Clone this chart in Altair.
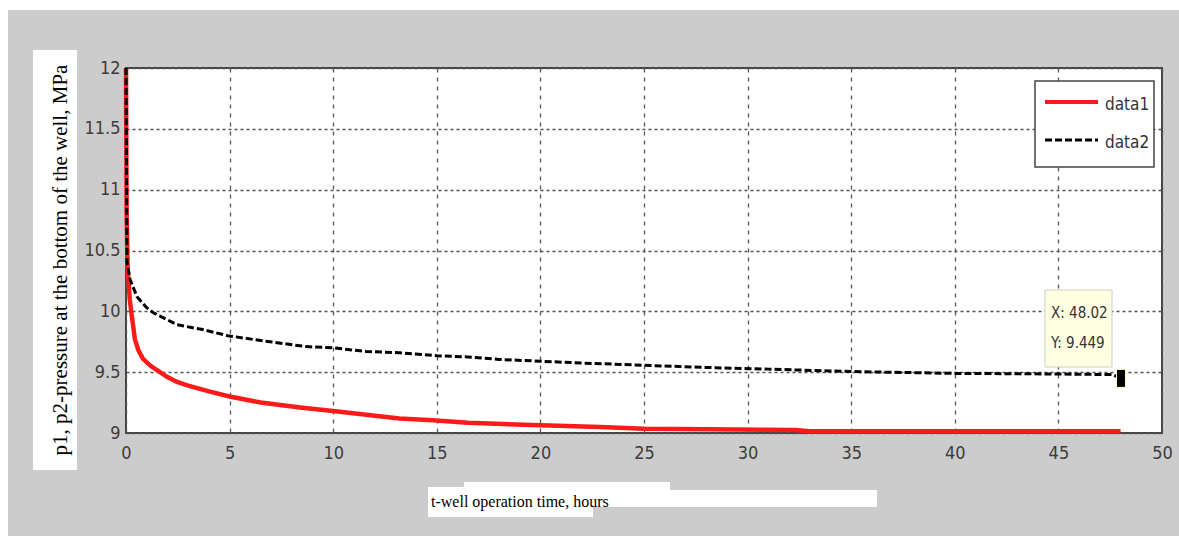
import altair as alt
import pandas as pd

# ---- data ----
t1 = [0.0, 0.03, 0.08, 0.18, 0.29, 0.43, 0.6, 0.82, 1.2, 1.64, 2.0, 2.46, 3.0, 4.05, 5.0,
      6.5, 8.4, 10.0, 11.6, 13.2, 14.8, 16.5, 19.6, 22.9, 25.0, 28.0, 32.3, 33.0, 40.0, 48.0]
p1 = [12.0, 10.8, 10.35, 10.1, 9.95, 9.77, 9.68, 9.61, 9.55, 9.5, 9.46, 9.42, 9.39, 9.34, 9.3,
      9.25, 9.21, 9.18, 9.15, 9.12, 9.105, 9.085, 9.065, 9.05, 9.035, 9.03, 9.025, 9.015, 9.015, 9.015]

t2 = [0.0, 0.05, 0.2, 0.53, 1.0, 1.3, 2.46, 3.7, 4.9, 6.5, 8.7, 10.0, 11.6, 13.2, 15.0, 16.5,
      18.0, 20.0, 22.0, 24.5, 27.7, 31.0, 35.0, 40.0, 45.0, 47.6, 48.02]
p2 = [12.0, 10.4, 10.26, 10.12, 10.03, 9.99, 9.89, 9.85, 9.8, 9.76, 9.71, 9.7, 9.67, 9.66, 9.635, 9.625,
      9.605, 9.59, 9.575, 9.56, 9.54, 9.525, 9.505, 9.49, 9.485, 9.48, 9.449]

x_ticks = [0, 5, 10, 15, 20, 25, 30, 35, 40, 45, 50]
y_ticks = [9, 9.5, 10, 10.5, 11, 11.5, 12]
tip_x = 48.02
tip_y = 9.449
legend_labels = ["data1", "data2"]
x_title = "t-well operation time, hours"
y_title = "p1, p2-pressure at the bottom of the well, MPa"

FONT_NUM = "DejaVu Sans Condensed, Liberation Sans Narrow, Roboto, sans-serif"
FONT_SERIF = "Liberation Serif, Times New Roman, serif"

d1 = pd.DataFrame({"t": t1, "p": p1})
d2 = pd.DataFrame({"t": t2, "p": p2})
dtip = pd.DataFrame({"t": [tip_x], "p": [tip_y]})
one = pd.DataFrame({"a": [0]})

xs = alt.Scale(domain=[0, 50], nice=False, zero=False)
ys = alt.Scale(domain=[9, 12], nice=False, zero=False)

xax = alt.Axis(values=x_ticks, format="~g", title=None, grid=True, gridDash=[4, 5],
               gridColor="#555555", gridWidth=1.3, domain=False, ticks=False,
               labelFont=FONT_NUM, labelFontSize=18, labelColor="#3c3c3c",
               labelPadding=11, labelFlush=False, labelBaseline="top")
yax = alt.Axis(values=y_ticks, format="~g", title=None, grid=True, gridDash=[3, 3],
               gridColor="#555555", gridWidth=1.6, domain=False, ticks=False,
               labelFont=FONT_NUM, labelFontSize=18, labelColor="#3c3c3c",
               labelPadding=6, labelFlush=False, labelAlign="right", labelBaseline="middle")

X = alt.X("t:Q", scale=xs, axis=xax)
Y = alt.Y("p:Q", scale=ys, axis=yax)

line1 = alt.Chart(d1).mark_line(color="#ff1a1a", strokeWidth=4.5).encode(x=X, y=Y)
line2 = alt.Chart(d2).mark_line(color="#000000", strokeWidth=3, strokeDash=[7, 3]).encode(x=X, y=Y)


def box(x1, x2, y1, y2, **kw):
    return alt.Chart(one).mark_rect(**kw).encode(
        x=alt.value(x1), x2=alt.value(x2), y=alt.value(y1), y2=alt.value(y2))


def label(x, y, text, **kw):
    return alt.Chart(one).mark_text(text=text, **kw).encode(x=alt.value(x), y=alt.value(y))


white_left = box(-126, -118, -68, 468, color="white")
white_top = box(-126, 1053, -68, -58, color="white")

ybox = box(-93, -49, -18, 402, color="white")
ytext = label(-65, 192, y_title, angle=270, align="center", baseline="middle",
              font=FONT_SERIF, fontSize=21, color="#000000")

xbox1 = box(302, 467, 419, 449, color="white")
xbox2 = box(338, 544, 414, 424, color="white")
xbox3 = box(467, 751, 422, 439, color="white")
xtext = label(305, 439, x_title, align="left", baseline="alphabetic",
              font=FONT_SERIF, fontSize=16, color="#000000")

tipbox = box(919, 986, 222, 299, fill="#ffffe1", stroke="#cfcfbf", strokeWidth=1)
tiptext1 = label(925, 245, f"X: {tip_x:.2f}", align="left", baseline="middle",
                 font=FONT_NUM, fontSize=15, color="#333333")
tiptext2 = label(925, 275, f"Y: {tip_y:.3f}", align="left", baseline="middle",
                 font=FONT_NUM, fontSize=15, color="#333333")
marker = alt.Chart(dtip).mark_point(shape="M-0.5,-1L0.5,-1L0.5,1L-0.5,1Z", filled=True,
                                    fill="#000000", stroke="#ffffcc", strokeWidth=1,
                                    size=324, opacity=1).encode(x=X, y=Y)

legbox = box(909, 1028, 13, 99, fill="white", stroke="#444444", strokeWidth=1.5)
leg1 = alt.Chart(one).mark_rule(color="#ff1a1a", strokeWidth=4).encode(
    x=alt.value(919), x2=alt.value(972), y=alt.value(34))
leg2 = alt.Chart(one).mark_rule(color="#000000", strokeWidth=3, strokeDash=[7, 3]).encode(
    x=alt.value(919), x2=alt.value(972), y=alt.value(72))
legt1 = label(979, 37, legend_labels[0], align="left", baseline="middle",
              font=FONT_NUM, fontSize=17, color="#333333")
legt2 = label(979, 75, legend_labels[1], align="left", baseline="middle",
              font=FONT_NUM, fontSize=17, color="#333333")

chart = alt.layer(
    white_left, white_top, ybox, ytext, xbox1, xbox2, xbox3, xtext,
    line1, line2, tipbox, tiptext1, tiptext2, marker,
    legbox, leg1, leg2, legt1, legt2,
).properties(
    width=1036, height=365,
    autosize=alt.AutoSizeParams(type="none"),
    padding={"left": 126, "top": 68, "right": 17, "bottom": 103},
    background="#cccccc",
).configure_view(fill="white", stroke="#444444", strokeWidth=2)

chart.save("out.html", embed_options={"renderer": "svg", "actions": False})
